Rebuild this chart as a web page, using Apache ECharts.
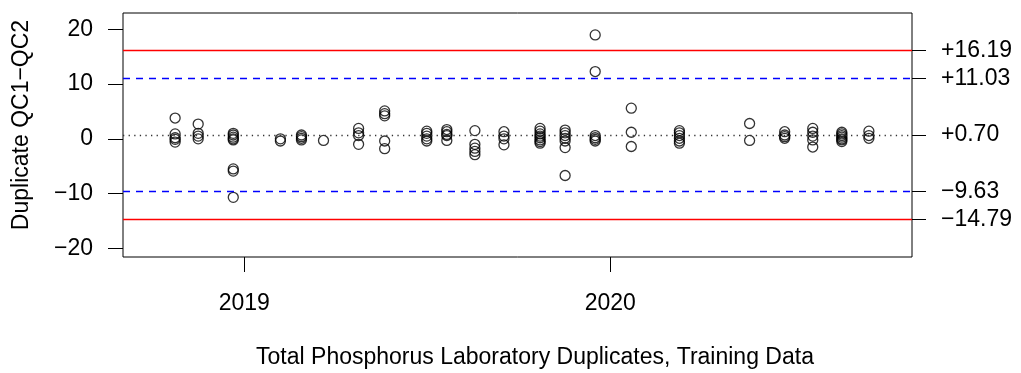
<!DOCTYPE html>
<html>
<head>
<meta charset="utf-8">
<style>
  html, body { margin: 0; padding: 0; background: #ffffff; }
  #chart { width: 1021px; height: 373px; }
</style>
<script src="https://cdn.jsdelivr.net/npm/echarts@6/dist/echarts.min.js"></script>
</head>
<body>
<div id="chart"></div>
<script>
// ---- data ----
var sampleDates = ['2018-10-24','2018-11-16','2018-12-21','2019-02-06','2019-02-27','2019-03-21',
  '2019-04-25','2019-05-21','2019-07-02','2019-07-22','2019-08-19','2019-09-17','2019-10-23',
  '2019-11-17','2019-12-17','2020-01-22','2020-03-10','2020-05-19','2020-06-23','2020-07-21',
  '2020-08-19','2020-09-15'];
var sampleDiffs = [
  [3.8, 0.9, 0.2, -0.1, -0.6],
  [2.7, 1.0, 0.5, 0.0],
  [1.0, 0.7, 0.3, 0.0, -0.2, -5.5, -5.9, -10.7],
  [0.0, -0.4],
  [0.7, 0.4, 0.1, -0.2],
  [-0.3],
  [1.9, 1.1, 0.6, -1.0],
  [5.1, 4.6, 4.2, -0.4, -1.8],
  [1.4, 1.0, 0.5, 0.0, -0.4],
  [1.7, 1.3, 0.8, 0.6, -0.3],
  [1.5, -1.0, -1.7, -2.3, -2.9],
  [1.3, 0.5, 0.0, -1.1],
  [1.9, 1.4, 0.9, 0.5, 0.2, -0.2, -0.5, -0.8],
  [1.6, 1.1, 0.6, 0.1, -0.4, -1.6, -6.7],
  [19.0, 12.3, 0.6, 0.2, -0.1, -0.4],
  [5.6, 1.2, -1.4],
  [1.5, 1.1, 0.6, 0.1, -0.4, -0.8],
  [2.8, -0.3],
  [1.3, 0.7, 0.4, 0.1],
  [1.9, 1.2, 0.5, -0.2, -1.5],
  [1.2, 0.9, 0.6, 0.3, 0.0, -0.2, -0.5],
  [1.4, 0.6, 0.1]
];
var meanLine = 0.70;
var warnLimits = [11.03, -9.63];
var ctrlLimits = [16.19, -14.79];
var rightTicks = [16.19, 11.03, 0.70, -9.63, -14.79];
var leftTicks = [-20, -10, 0, 10, 20];
var yearTicks = ['2019-01-01', '2020-01-01'];
var xRange = ['2018-09-02', '2020-10-28'];
var yRange = [-21.6, 23.0];
var yLabel = 'Duplicate QC1\u2212QC2';
var titleText = 'Total Phosphorus Laboratory Duplicates, Training Data';

function ts(s) { var p = s.split('-'); return Date.UTC(+p[0], +p[1] - 1, +p[2]); }

var points = [];
sampleDates.forEach(function (d, i) {
  sampleDiffs[i].forEach(function (v) { points.push([ts(d), v]); });
});

var FONT = '"Liberation Sans", Arial, Helvetica, sans-serif';
var FS = 23;

function fmtLeft(v) { return v < 0 ? '\u2212' + Math.abs(v) : String(v); }
function fmtRight(v) { return (v < 0 ? '\u2212' : '+') + Math.abs(v).toFixed(2); }

var chart = echarts.init(document.getElementById('chart'), null, { renderer: 'canvas' });
var option = {
  animation: false,
  backgroundColor: '#ffffff',
  grid: { left: 123, right: 109, top: 13, bottom: 116, show: true, borderColor: '#000', borderWidth: 1, backgroundColor: 'transparent' },
  xAxis: {
    type: 'value', position: 'bottom',
    min: ts(xRange[0]), max: ts(xRange[1]),
    axisLine: { show: false, onZero: false },
    splitLine: { show: false },
    axisTick: { show: true, length: 15, lineStyle: { color: '#000', width: 1 }, customValues: yearTicks.map(ts) },
    axisLabel: {
      customValues: yearTicks.map(ts), margin: 35, color: '#000', fontFamily: FONT, fontSize: FS,
      formatter: function (v) { return String(new Date(v).getUTCFullYear()); }
    }
  },
  yAxis: [{
    type: 'value', position: 'left',
    min: yRange[0], max: yRange[1],
    axisLine: { show: false, onZero: false },
    splitLine: { show: false },
    axisTick: { show: true, length: 15, lineStyle: { color: '#000', width: 1 }, customValues: leftTicks },
    axisLabel: { customValues: leftTicks, margin: 30, color: '#000', fontFamily: FONT, fontSize: FS, formatter: fmtLeft }
  }, {
    type: 'value', position: 'right',
    min: yRange[0], max: yRange[1],
    axisLine: { show: false, onZero: false },
    splitLine: { show: false },
    axisTick: { show: true, length: 14, lineStyle: { color: '#000', width: 1 }, customValues: rightTicks },
    axisLabel: { customValues: rightTicks, margin: 29, color: '#000', fontFamily: FONT, fontSize: FS, formatter: fmtRight }
  }],
  series: [{
    type: 'scatter',
    data: points,
    symbol: 'circle',
    symbolSize: 10,
    itemStyle: { color: 'rgba(0,0,0,0)', borderColor: '#000', borderWidth: 1.3 },
    silent: true,
    markLine: {
      silent: true, symbol: ['none', 'none'], label: { show: false },
      data: [
        { yAxis: ctrlLimits[0], lineStyle: { color: '#ff0000', width: 1.4, type: 'solid' } },
        { yAxis: ctrlLimits[1], lineStyle: { color: '#ff0000', width: 1.4, type: 'solid' } },
        { yAxis: warnLimits[0], lineStyle: { color: '#0000ff', width: 1.4, type: [7, 6] } },
        { yAxis: warnLimits[1], lineStyle: { color: '#0000ff', width: 1.4, type: [7, 6] } },
        { yAxis: meanLine, lineStyle: { color: '#333', width: 1.3, type: [1.3, 4.3] } }
      ]
    }
  }],
  graphic: [{
    type: 'text', x: 22, y: 125, rotation: Math.PI / 2,
    style: { text: yLabel, fill: '#000', font: FS + 'px ' + FONT, textAlign: 'center', textVerticalAlign: 'middle' }
  }, {
    type: 'text', x: 535, y: 358,
    style: { text: titleText, fill: '#000', font: FS + 'px ' + FONT, textAlign: 'center', textVerticalAlign: 'middle' }
  }]
};
chart.setOption(option);
</script>
</body>
</html>
